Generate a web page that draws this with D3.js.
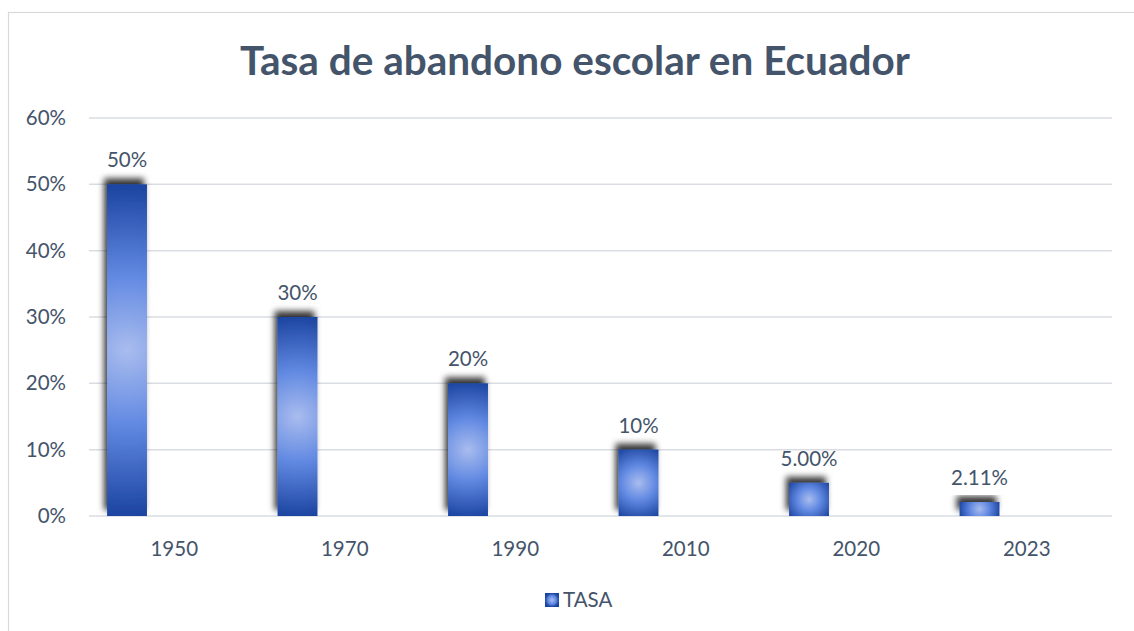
<!DOCTYPE html>
<html><head><meta charset="utf-8">
<script src="https://cdn.jsdelivr.net/npm/d3@7"></script>
<style>body{margin:0;background:#fff;} svg{display:block;}</style>
</head><body>
<svg id="c" width="1134" height="631"></svg>
<script>
const categories = ["1950","1970","1990","2010","2020","2023"];
const values = [0.50, 0.30, 0.20, 0.10, 0.05, 0.0211];
const dataLabels = ["50%","30%","20%","10%","5.00%","2.11%"];
const yTicks = [0, 0.1, 0.2, 0.3, 0.4, 0.5, 0.6];
const seriesName = "TASA";
const title = "Tasa de abandono escolar en Ecuador";

const svg = d3.select("#c");
const font = "Lato, 'Open Sans', sans-serif";
const textCol = "#44546a";
const W = 1134, H = 631;
const m = {l: 89, r: 1112, t: 118, b: 516};

svg.append("rect").attr("x",8.5).attr("y",12.5).attr("width",W).attr("height",H)
  .attr("fill","#fff").attr("stroke","#d9d9d9").attr("stroke-width",1.2);

const defs = svg.append("defs");
const f = defs.append("filter").attr("id","sh").attr("x","-50%").attr("y","-50%").attr("width","200%").attr("height","200%");
f.append("feDropShadow").attr("dx",-3).attr("dy",-6).attr("stdDeviation",3.2)
  .attr("flood-color","#000").attr("flood-opacity",0.78);

const x0 = d3.scaleBand().domain(categories).range([m.l, m.r]).padding(0);
const x1 = d3.scaleBand().domain([seriesName]).range([0.106*x0.bandwidth(), 0.34*x0.bandwidth()]).padding(0);
const y = d3.scaleLinear().domain([0, 0.6]).range([m.b, m.t]);

// grid
svg.append("g").selectAll("line").data(yTicks).join("line")
  .attr("x1", m.l).attr("x2", m.r).attr("y1", d=>y(d)).attr("y2", d=>y(d))
  .attr("stroke","#d9dde3").attr("stroke-width",1.5);

// y labels
svg.append("g").selectAll("text").data(yTicks).join("text")
  .attr("x", 66).attr("y", d=>y(d)+7).attr("text-anchor","end")
  .attr("font-family",font).attr("font-size",20.5).attr("fill",textCol)
  .text(d3.format(".0%"));

// x labels
svg.append("g").selectAll("text").data(categories).join("text")
  .attr("x", d=>x0(d)+x0.bandwidth()/2).attr("y", 556).attr("text-anchor","middle")
  .attr("font-family",font).attr("font-size",20.5).attr("fill",textCol)
  .text(d=>d);

const bars = categories.map((c,i)=>{
  const bx = x0(c)+x1(seriesName), bw = x1.bandwidth();
  const by = y(values[i]), bh = y(0)-y(values[i]);
  return {c, i, bx, bw, by, bh};
});

bars.forEach(b=>{
  const g = defs.append("radialGradient").attr("id","g"+b.i).attr("gradientUnits","userSpaceOnUse")
    .attr("cx", b.bx+b.bw/2).attr("cy", b.by+b.bh/2).attr("r", Math.hypot(b.bw, b.bh)/2);
  g.append("stop").attr("offset",0).attr("stop-color","#a9bcee");
  g.append("stop").attr("offset",0.45).attr("stop-color","#6189e2");
  g.append("stop").attr("offset",1).attr("stop-color","#1a439f");
});

svg.append("g").selectAll("rect").data(bars).join("rect")
  .attr("x", d=>d.bx).attr("y", d=>d.by).attr("width", d=>d.bw).attr("height", d=>d.bh)
  .attr("fill", d=>`url(#g${d.i})`).attr("filter","url(#sh)");

svg.append("g").selectAll("text").data(bars).join("text")
  .attr("x", d=>d.bx+d.bw/2).attr("y", d=>d.by-17).attr("text-anchor","middle")
  .attr("font-family",font).attr("font-size",20.5).attr("fill",textCol)
  .text(d=>dataLabels[d.i]);

// title
svg.append("text").attr("x", 575).attr("y", 75).attr("text-anchor","middle")
  .attr("font-family",font).attr("font-weight","bold").attr("font-size",40.5).attr("fill",textCol)
  .text(title);

// legend
const lg = defs.append("radialGradient").attr("id","lg");
lg.append("stop").attr("offset",0).attr("stop-color","#a9bcee");
lg.append("stop").attr("offset",0.6).attr("stop-color","#6189e2");
lg.append("stop").attr("offset",1).attr("stop-color","#1a439f");
svg.append("rect").attr("x",545).attr("y",593).attr("width",14).attr("height",14).attr("fill","url(#lg)");
svg.append("text").attr("x",563).attr("y",607).attr("font-family",font).attr("font-size",20.5).attr("fill",textCol).text(seriesName);
</script>
</body></html>
